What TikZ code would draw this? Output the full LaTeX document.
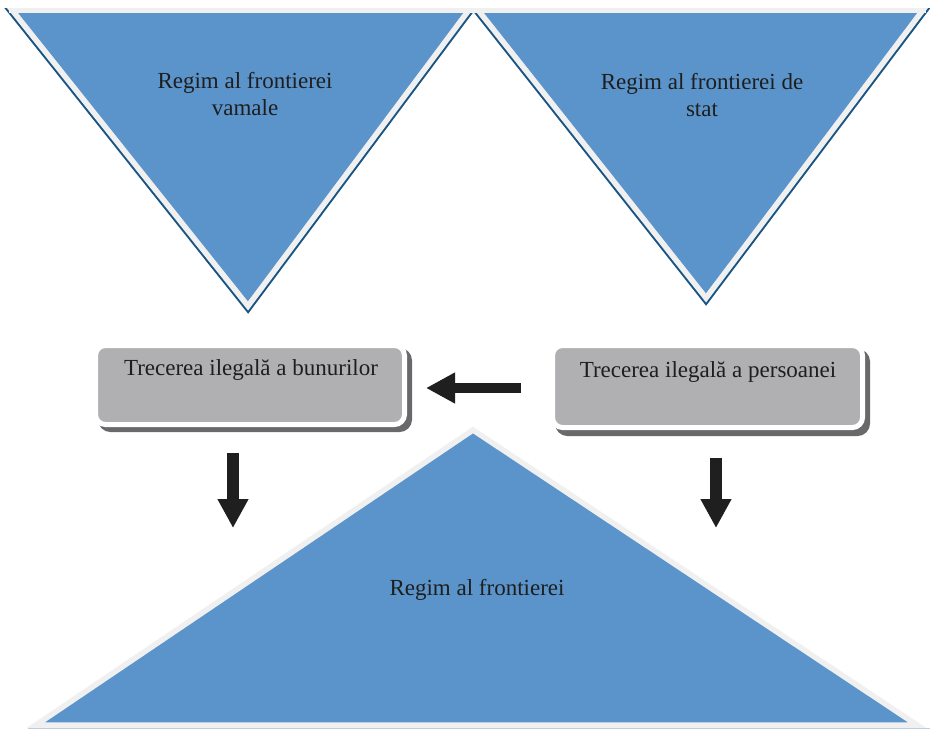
\documentclass[tikz,border=0pt]{standalone}
\usepackage{fontspec}
\setmainfont{Liberation Serif}
\usetikzlibrary{arrows.meta}
\definecolor{triblue}{RGB}{91,148,202}
\definecolor{trishadow}{RGB}{24,84,132}
\definecolor{rimwhite}{RGB}{240,240,240}
\definecolor{boxgray}{RGB}{176,176,179}
\definecolor{boxshadow}{RGB}{105,105,108}
\definecolor{txt}{RGB}{30,30,30}
\tikzset{
  tri/.style={fill=triblue, draw=rimwhite, line width=5.5pt, line join=miter},
  trishade/.style={fill=trishadow, draw=trishadow, line width=9.5pt, line join=miter},
  gbox/.style={fill=boxgray, draw=white, line width=5pt, rounded corners=10pt},
  gshade/.style={fill=boxshadow, draw=boxshadow, line width=5pt, rounded corners=10pt},
  lbl/.style={text=txt, font=\fontsize{23}{27}\selectfont, align=center, inner sep=0pt},
  bigarrow/.style={draw=black!88, line width=10pt, -{Triangle[width=29pt,length=29pt]}},
}
\begin{document}
\begin{tikzpicture}[x=1pt,y=-1pt]
\useasboundingbox (0,0) rectangle (930,729);
\fill[white] (0,0) rectangle (930,729);
% bottom thin line
\draw[line width=1pt, draw={rgb,255:red,190;green,205;blue,222}] (28,728) -- (930,728);
% top-left triangle
\coordinate (tlA) at (12,10);
\coordinate (tlB) at (469,10);
\coordinate (tlC) at (248,306);
\path[trishade, shift={(1.5,4)}] (tlA) -- (tlB) -- (tlC) -- cycle;
\path[tri] (tlA) -- (tlB) -- (tlC) -- cycle;
% top-right triangle
\coordinate (trA) at (478,10);
\coordinate (trB) at (923,10);
\coordinate (trC) at (706,298);
\path[trishade, shift={(1.5,4)}] (trA) -- (trB) -- (trC) -- cycle;
\path[tri] (trA) -- (trB) -- (trC) -- cycle;
% top edge light band
\fill[white] (0,0) rectangle (930,7.5);
\draw[rimwhite, line width=5pt] (9,10) -- (926,10);
% bottom triangle
\coordinate (bA) at (473,430);
\coordinate (bB) at (36,725);
\coordinate (bC) at (917,725);
\path[tri] (bA) -- (bB) -- (bC) -- cycle;
% boxes
\path[gshade, shift={(5,5)}] (95.5,345.5) rectangle (404.5,424.5);
\path[gbox] (95.5,345.5) rectangle (404.5,424.5);
\path[gshade, shift={(5,6)}] (552.5,345.5) rectangle (862.5,427.5);
\path[gbox] (552.5,345.5) rectangle (862.5,427.5);
% texts
\node[lbl] (vamale) at (245,94) {Regim al frontierei\\vamale};
\node[lbl] (stat) at (702,95) {Regim al frontierei de\\stat};
\node[lbl] (regim) at (477,590) {Regim al frontierei};
\node[lbl] (bunuri) at (251,370) {Trecerea ilegală a bunurilor};
\node[lbl] (persoane) at (708,372) {Trecerea ilegală a persoanei};
% arrow ends
\coordinate (hS) at (521,388);
\coordinate (hE) at (426,388);
\coordinate (lS) at (233,453);
\coordinate (lE) at (233,528);
\coordinate (rS) at (716,458);
\coordinate (rE) at (716,528);
\draw[bigarrow] (hS) -- (hE);
\draw[bigarrow, line width=12pt] (lS) -- (lE);
\draw[bigarrow, line width=12pt] (rS) -- (rE);
\end{tikzpicture}
\end{document}
